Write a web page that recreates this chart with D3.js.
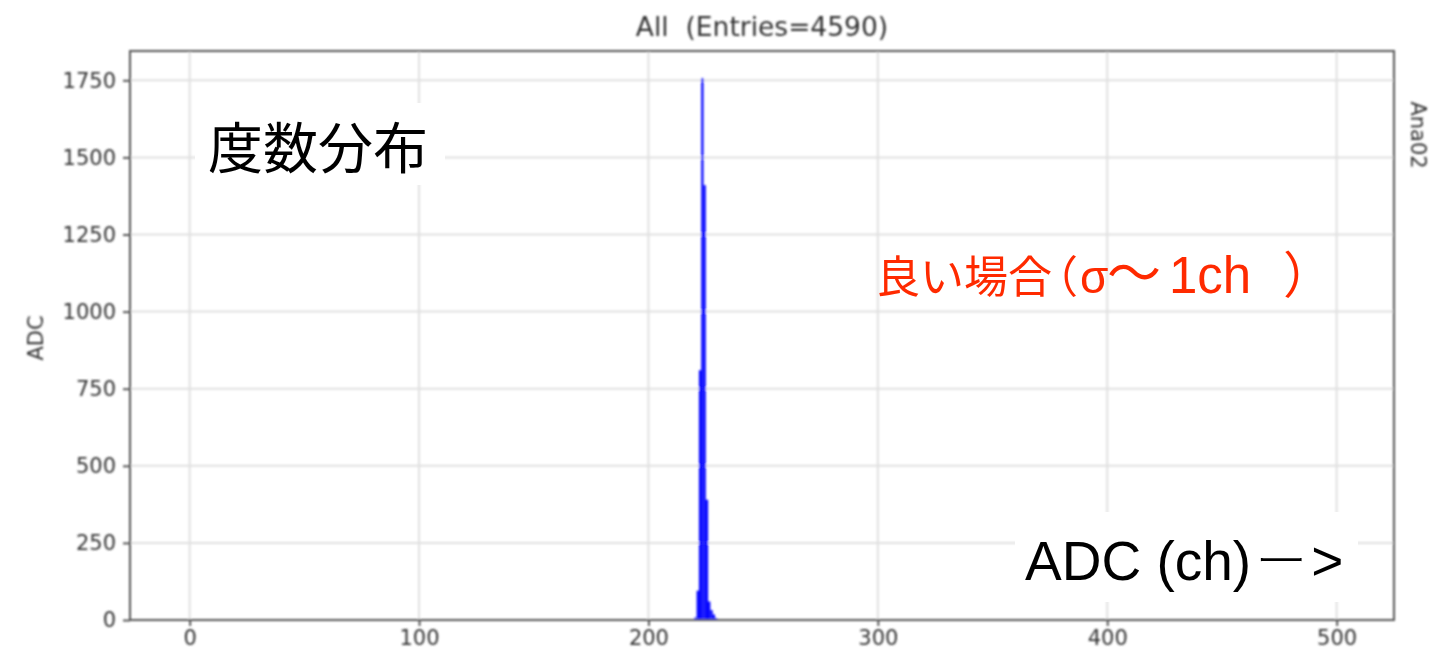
<!DOCTYPE html>
<html>
<head>
<meta charset="utf-8">
<script src="https://cdn.jsdelivr.net/npm/d3@7"></script>
<style>
  html, body { margin: 0; padding: 0; background: #ffffff; }
  svg { display: block; }
</style>
</head>
<body>
<svg id="chart" width="1452" height="656"></svg>
<script>
// ADC channel of each histogram bin (bin covers [ch, ch+1))
const channels = [219, 220, 221, 222, 223, 224, 225, 226, 227, 228, 229, 230];
// Counts per bin
const counts   = [2, 8, 95, 810, 1757, 1410, 390, 60, 32, 18, 6, 2];
const xTicks = [0, 100, 200, 300, 400, 500];
const yTicks = [0, 250, 500, 750, 1000, 1250, 1500, 1750];
const titleText = "All  (Entries=4590)";
const yLabelText = "ADC";
const sideLabelText = "Ana02";
const noteTopLeft = "度数分布";
// red note, split into runs that are set in different faces
const noteRightRuns = ["良い場合", "（", "σ", "〜", "1ch", "）"];
const noteAxisRuns = ["ADC (ch)", "ー", ">"];

const svg = d3.select("#chart");
const plot = { left: 130, right: 1394, top: 51, bottom: 620 };

const x = d3.scaleLinear().domain([-26, 525]).range([plot.left, plot.right]);
const y = d3.scaleLinear().domain([0, 1845]).range([plot.bottom, plot.top]);

// soft rendering of the plot itself
const defs = svg.append("defs");
defs.append("filter").attr("id", "soft")
  .attr("x", "-5%").attr("y", "-5%").attr("width", "110%").attr("height", "110%")
  .append("feGaussianBlur").attr("stdDeviation", 0.8);

const g = svg.append("g").attr("filter", "url(#soft)");
const tickFont = "'DejaVu Sans', sans-serif";
const textColor = "#333";

// grid
g.append("g").selectAll("line").data(xTicks).join("line")
  .attr("x1", d => x(d)).attr("x2", d => x(d))
  .attr("y1", plot.top).attr("y2", plot.bottom)
  .attr("stroke", "#e0e0e0").attr("stroke-width", 2);
g.append("g").selectAll("line").data(yTicks).join("line")
  .attr("x1", plot.left).attr("x2", plot.right)
  .attr("y1", d => y(d)).attr("y2", d => y(d))
  .attr("stroke", "#e0e0e0").attr("stroke-width", 2);

// histogram bars
g.append("g").selectAll("rect").data(channels.map((c, i) => ({ c, n: counts[i] }))).join("rect")
  .attr("x", d => x(d.c))
  .attr("width", d => x(d.c + 1) - x(d.c))
  .attr("y", d => y(d.n))
  .attr("height", d => y(0) - y(d.n))
  .attr("fill", "#0000ff");

// axes
const xAxis = g.append("g").attr("transform", `translate(0,${plot.bottom})`)
  .call(d3.axisBottom(x).tickValues(xTicks).tickFormat(d3.format("d")).tickSize(6).tickPadding(4));
const yAxis = g.append("g").attr("transform", `translate(${plot.left},0)`)
  .call(d3.axisLeft(y).tickValues(yTicks).tickFormat(d3.format("d")).tickSize(7).tickPadding(7));
[xAxis, yAxis].forEach(a => {
  a.select(".domain").remove();
  a.selectAll(".tick line").attr("stroke", "#555").attr("stroke-width", 2);
  a.selectAll(".tick text").attr("fill", textColor)
    .style("font-family", tickFont).style("font-size", "21px");
});

// frame
g.append("rect")
  .attr("x", plot.left).attr("y", plot.top)
  .attr("width", plot.right - plot.left).attr("height", plot.bottom - plot.top)
  .attr("fill", "none").attr("stroke", "#555").attr("stroke-width", 2);

// title
g.append("text")
  .attr("x", (plot.left + plot.right) / 2).attr("y", 36)
  .attr("text-anchor", "middle").attr("fill", textColor)
  .style("font-family", tickFont).style("font-size", "26.5px")
  .style("white-space", "pre")
  .text(titleText);

// y label
g.append("text")
  .attr("transform", "translate(36,338) rotate(-90)")
  .attr("text-anchor", "middle").attr("dominant-baseline", "central")
  .attr("fill", textColor)
  .style("font-family", tickFont).style("font-size", "21px")
  .text(yLabelText);

// right side label
g.append("text")
  .attr("transform", "translate(1418,135) rotate(90)")
  .attr("text-anchor", "middle").attr("dominant-baseline", "central")
  .attr("fill", textColor)
  .style("font-family", tickFont).style("font-size", "21px")
  .text(sideLabelText);

// overlay notes
const notes = svg.append("g");
notes.append("rect").attr("x", 195).attr("y", 103).attr("width", 250).attr("height", 82).attr("fill", "#fff");
notes.append("text")
  .attr("x", 318).attr("y", 144)
  .attr("text-anchor", "middle").attr("dominant-baseline", "central")
  .attr("fill", "#000")
  .style("font-family", "'Noto Sans CJK JP', sans-serif").style("font-size", "55px")
  .text(noteTopLeft);

const cjk = "'Noto Sans CJK JP', sans-serif";
const latin = "'Liberation Sans', Arial, sans-serif";
const red = notes.append("text")
  .attr("y", 293)
  .attr("fill", "#ff2a00")
  .style("font-size", "44px");
red.append("tspan").attr("x", 876).style("font-family", cjk).text(noteRightRuns[0]);
red.append("tspan").attr("dx", 4).style("font-family", cjk)
  .style("font-feature-settings", "'halt' 1").text(noteRightRuns[1]);
red.append("tspan").attr("x", 1080).style("font-family", latin)
  .style("font-size", "46px").text(noteRightRuns[2]);
red.append("tspan").attr("x", 1107).style("font-family", cjk)
  .style("font-size", "54px").text(noteRightRuns[3]);
red.append("tspan").attr("x", 1169).style("font-family", latin)
  .style("font-size", "51px").text(noteRightRuns[4]);
red.append("tspan").attr("x", 1283).style("font-family", cjk)
  .style("font-size", "50px")
  .style("font-feature-settings", "'halt' 1").text(noteRightRuns[5]);

notes.append("rect").attr("x", 1015).attr("y", 512).attr("width", 343).attr("height", 90).attr("fill", "#fff");
const axisNote = notes.append("text")
  .attr("x", 1025).attr("y", 580)
  .attr("fill", "#000")
  .style("font-family", latin).style("font-size", "55px");
axisNote.append("tspan").text(noteAxisRuns[0]);
axisNote.append("tspan").attr("dx", 4)
  .style("font-family", cjk).style("font-size", "52px")
  .style("font-weight", 300).text(noteAxisRuns[1]);
axisNote.append("tspan").attr("dx", 4).text(noteAxisRuns[2]);
</script>
</body>
</html>
